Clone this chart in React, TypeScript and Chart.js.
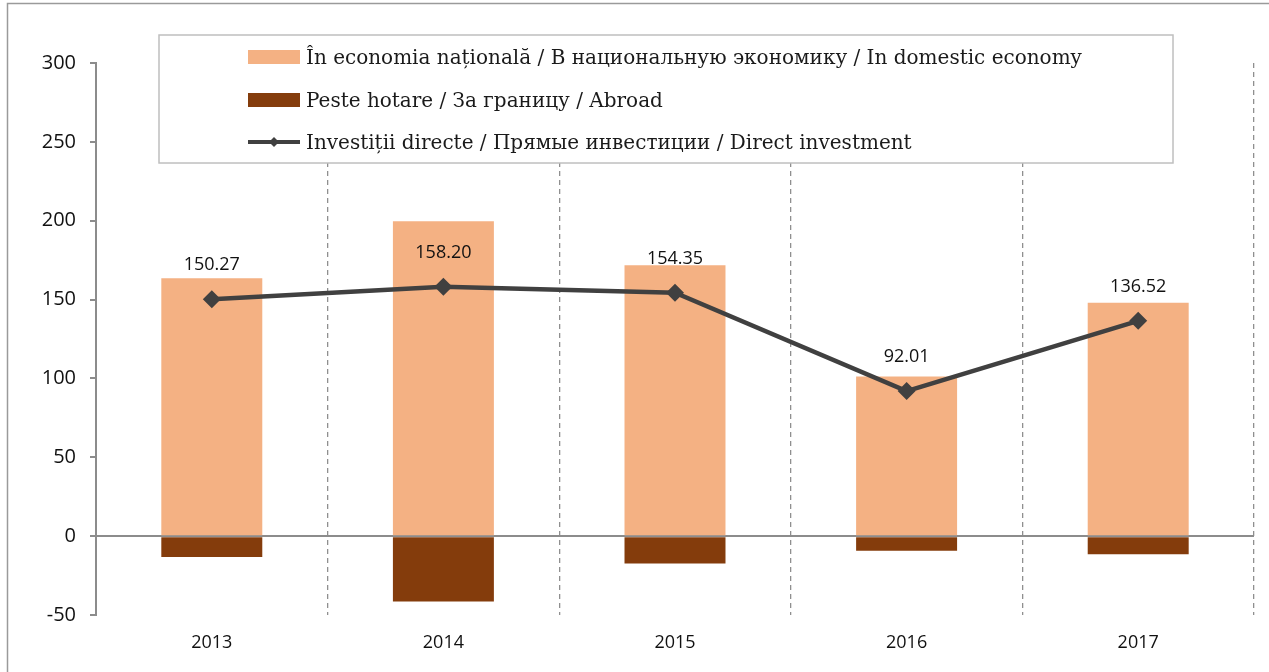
import React, { useEffect, useRef } from "react";
import { Chart, registerables } from "chart.js";

Chart.register(...registerables);

const years = ["2013", "2014", "2015", "2016", "2017"];
const domestic = [163.5, 199.6, 171.8, 101.3, 148.0];
const abroad = [-13.2, -41.4, -17.4, -9.3, -11.5];
const direct = [150.27, 158.2, 154.35, 92.01, 136.52];
const directLabels = ["150.27", "158.20", "154.35", "92.01", "136.52"];

const labelDomestic = "În economia națională / В национальную экономику / In domestic economy";
const labelAbroad = "Peste hotare / За границу / Abroad";
const labelDirect = "Investiții directe / Прямые инвестиции / Direct investment";

const LIGHT = "#F4B183";
const DARK = "#843C0C";
const LINE = "#404040";
const SANS = "'Open Sans', sans-serif";
const SERIF = "'DejaVu Serif', serif";

const framePlugin = {
  id: "frame",
  beforeDraw(chart: any) {
    const ctx = chart.ctx;
    ctx.save();
    ctx.strokeStyle = "#9a9a9a";
    ctx.lineWidth = 1.5;
    ctx.beginPath();
    ctx.moveTo(7.5, chart.height);
    ctx.lineTo(7.5, 3.5);
    ctx.lineTo(chart.width, 3.5);
    ctx.stroke();
    ctx.restore();
  },
};

const valueLabelPlugin = {
  id: "valueLabels",
  afterDatasetsDraw(chart: any) {
    const ctx = chart.ctx;
    chart.data.datasets.forEach((ds: any, i: number) => {
      if (ds.type !== "line") return;
      const meta = chart.getDatasetMeta(i);
      ctx.save();
      ctx.font = `18px ${SANS}`;
      ctx.fillStyle = "#111111";
      ctx.textAlign = "center";
      ctx.textBaseline = "middle";
      meta.data.forEach((pt: any, j: number) => {
        ctx.fillText(directLabels[j], pt.x, pt.y - 34);
      });
      ctx.restore();
    });
  },
};

const legendPlugin = {
  id: "boxLegend",
  afterDraw(chart: any) {
    const ctx = chart.ctx;
    const left = 159, top = 35, right = 1173, bottom = 163;
    ctx.save();
    ctx.fillStyle = "#ffffff";
    ctx.fillRect(left, top, right - left, bottom - top);
    ctx.strokeStyle = "#bfbfbf";
    ctx.lineWidth = 1.5;
    ctx.strokeRect(left, top, right - left, bottom - top);
    const rows = [57, 100, 142];
    const sx = 248, sw = 52;
    const items = [chart.data.datasets[1], chart.data.datasets[2], chart.data.datasets[0]];
    ctx.font = `20px ${SERIF}`;
    ctx.textBaseline = "middle";
    items.forEach((ds: any, k: number) => {
      const y = rows[k];
      if (ds.type === "line") {
        ctx.strokeStyle = LINE;
        ctx.lineWidth = 4;
        ctx.beginPath();
        ctx.moveTo(sx, y);
        ctx.lineTo(sx + sw, y);
        ctx.stroke();
        ctx.fillStyle = LINE;
        ctx.beginPath();
        const cx = sx + sw / 2, r = 5;
        ctx.moveTo(cx, y - r);
        ctx.lineTo(cx + r, y);
        ctx.lineTo(cx, y + r);
        ctx.lineTo(cx - r, y);
        ctx.closePath();
        ctx.fill();
      } else {
        ctx.fillStyle = ds.backgroundColor;
        ctx.fillRect(sx, y - 7, sw, 14);
      }
      ctx.fillStyle = "#1a1a1a";
      ctx.textAlign = "left";
      ctx.fillText(ds.label, 306, y + 2);
    });
    ctx.restore();
  },
};

export default function App() {
  const ref = useRef<HTMLCanvasElement | null>(null);

  useEffect(() => {
    if (!ref.current) return;
    const chart = new Chart(ref.current, {
      type: "bar",
      data: {
        labels: years,
        datasets: [
          {
            type: "line",
            label: labelDirect,
            data: direct,
            borderColor: LINE,
            backgroundColor: LINE,
            borderWidth: 4.5,
            pointStyle: "rectRot",
            pointRadius: 9,
            pointBackgroundColor: LINE,
            pointBorderColor: LINE,
            pointBorderWidth: 0,
            stack: "line",
            order: 0,
            tension: 0,
          } as any,
          {
            type: "bar",
            label: labelDomestic,
            data: domestic,
            backgroundColor: LIGHT,
            stack: "bars",
            order: 1,
            barPercentage: 0.436,
            categoryPercentage: 1,
          },
          {
            type: "bar",
            label: labelAbroad,
            data: abroad,
            backgroundColor: DARK,
            stack: "bars",
            order: 1,
            barPercentage: 0.436,
            categoryPercentage: 1,
          },
        ],
      },
      options: {
        animation: false,
        responsive: false,
        maintainAspectRatio: false,
        devicePixelRatio: 1,
        layout: { padding: { left: 0, top: 63, right: 15, bottom: 0 } },
        plugins: {
          legend: { display: false },
          title: { display: false },
          tooltip: { enabled: false },
        },
        scales: {
          x: {
            stacked: true,
            offset: true,
            grid: {
              offset: true,
              color: "#8f8f8f",
              lineWidth: 1.3,
              drawTicks: false,
            },
            border: { display: false, dash: [5, 4] },
            ticks: {
              color: "#111111",
              font: { family: SANS, size: 18 },
              padding: 17,
            },
            afterFit(scale: any) {
              scale.height = 57;
            },
          },
          y: {
            stacked: true,
            min: -50,
            max: 300,
            ticks: {
              stepSize: 50,
              color: "#111111",
              font: { family: SANS, size: 20 },
              padding: 14,
            },
            grid: {
              color: (c: any) => (c.tick && c.tick.value === 0 ? "#8c8c8c" : "rgba(0,0,0,0)"),
              lineWidth: 2,
              tickLength: 6,
              tickColor: "#8c8c8c",
              tickWidth: 2,
            },
            border: { display: true, color: "#8c8c8c", width: 2 },
            afterFit(scale: any) {
              scale.width = 96;
            },
          },
        },
      },
      plugins: [framePlugin, valueLabelPlugin, legendPlugin],
    });
    return () => chart.destroy();
  }, []);

  return (
    <div style={{ position: "absolute", left: 0, top: 0, width: 1269, height: 672, background: "#fff" }}>
      <canvas ref={ref} width={1269} height={672} style={{ display: "block", width: 1269, height: 672 }} />
    </div>
  );
}
